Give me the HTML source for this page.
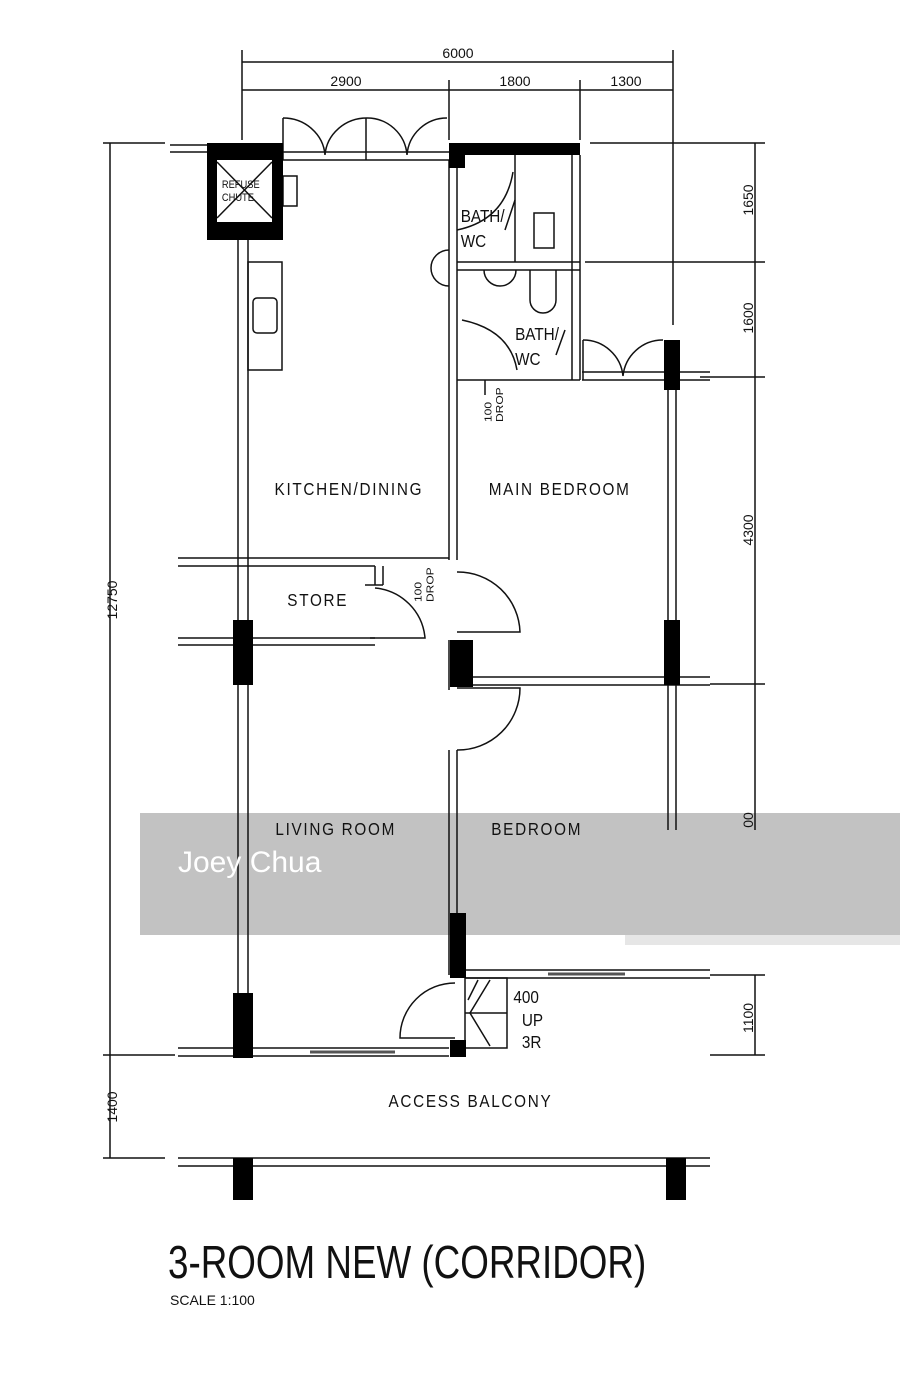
<!DOCTYPE html>
<html><head><meta charset="utf-8"><style>
html,body{margin:0;padding:0;background:#fff;width:900px;height:1386px;overflow:hidden}
svg{display:block}
text{font-family:"Liberation Sans",sans-serif;fill:#111}
.rl{letter-spacing:2px}
</style></head><body>
<svg width="900" height="1386" viewBox="0 0 900 1386" xmlns="http://www.w3.org/2000/svg">
<rect x="140" y="813" width="760" height="122" fill="#c2c2c2"/>
<rect x="625" y="935" width="275" height="10" fill="#e6e6e6"/>
<g stroke="#111" stroke-width="1.5" fill="none">
<line x1="242" y1="62" x2="673" y2="62"/>
<line x1="242" y1="90" x2="673" y2="90"/>
<line x1="242" y1="50" x2="242" y2="140"/>
<line x1="449" y1="80" x2="449" y2="140"/>
<line x1="580" y1="80" x2="580" y2="140"/>
<line x1="673" y1="50" x2="673" y2="325"/>
<line x1="110" y1="143" x2="110" y2="1158"/>
<line x1="103" y1="143" x2="165" y2="143"/>
<line x1="103" y1="1055" x2="175" y2="1055"/>
<line x1="103" y1="1158" x2="165" y2="1158"/>
<line x1="755" y1="143" x2="755" y2="830"/>
<line x1="755" y1="975" x2="755" y2="1055"/>
<line x1="590" y1="143" x2="765" y2="143"/>
<line x1="585" y1="262" x2="765" y2="262"/>
<line x1="700" y1="377" x2="765" y2="377"/>
<line x1="710" y1="684" x2="765" y2="684"/>
<line x1="710" y1="975" x2="765" y2="975"/>
<line x1="710" y1="1055" x2="765" y2="1055"/>
<line x1="238" y1="240" x2="238" y2="1055"/>
<line x1="248" y1="240" x2="248" y2="1055"/>
<rect x="248" y="262" width="34" height="108"/>
<rect x="253" y="298" width="24" height="35" rx="4"/>
<line x1="283" y1="152" x2="449" y2="152"/>
<line x1="283" y1="160" x2="449" y2="160"/>
<line x1="170" y1="145" x2="207" y2="145"/>
<line x1="170" y1="152" x2="207" y2="152"/>
<path d="M283 118 A42 40 0 0 1 325 155 M367 118 A42 40 0 0 0 325 155"/>
<path d="M367 118 A40 40 0 0 1 407 155 M447 118 A40 40 0 0 0 407 155"/>
<line x1="283" y1="118" x2="283" y2="160"/><line x1="366" y1="118" x2="366" y2="160"/>
<rect x="283" y="176" width="14" height="30"/>
<line x1="217" y1="162" x2="272" y2="218"/><line x1="272" y1="162" x2="217" y2="218"/>
<line x1="449" y1="160" x2="449" y2="560"/>
<line x1="457" y1="160" x2="457" y2="560"/>
<line x1="449" y1="640" x2="449" y2="690"/>
<line x1="449" y1="750" x2="449" y2="975"/>
<line x1="457" y1="750" x2="457" y2="975"/>
<line x1="457" y1="262" x2="580" y2="262"/>
<line x1="457" y1="270" x2="580" y2="270"/>
<line x1="515" y1="155" x2="515" y2="262"/>
<line x1="572" y1="155" x2="572" y2="380"/>
<line x1="580" y1="155" x2="580" y2="380"/>
<line x1="457" y1="380" x2="580" y2="380"/>
<rect x="534" y="213" width="20" height="35"/>
<path d="M457 230 Q505 220 513 172"/>
<line x1="505" y1="230" x2="515" y2="200"/>
<path d="M449 250 A14 14 0 0 0 449 286"/>
<path d="M484 270 A16 16 0 0 0 516 270"/>
<path d="M530 270 L530 300 A13 13 0 0 0 556 300 L556 270"/>
<path d="M462 320 Q510 330 517 370"/>
<line x1="565" y1="330" x2="556" y2="355"/>
<line x1="582" y1="372" x2="710" y2="372"/><line x1="582" y1="380" x2="710" y2="380"/>
<path d="M583 340 A40 40 0 0 1 623 376 M663 340 A40 40 0 0 0 623 376"/>
<line x1="583" y1="340" x2="583" y2="380"/>
<line x1="668" y1="380" x2="668" y2="830"/>
<line x1="676" y1="380" x2="676" y2="830"/>
<line x1="178" y1="558" x2="449" y2="558"/>
<line x1="178" y1="566" x2="375" y2="566"/>
<line x1="375" y1="566" x2="375" y2="585"/><line x1="383" y1="566" x2="383" y2="585"/>
<line x1="178" y1="638" x2="375" y2="638"/>
<line x1="178" y1="645" x2="375" y2="645"/>
<line x1="365" y1="585" x2="383" y2="585"/>
<path d="M370 638 L425 638 A55 55 0 0 0 375 588"/>
<path d="M457 572 A62 62 0 0 1 520 632 L457 632"/>
<path d="M457 750 A62 62 0 0 0 520 688 L457 688"/>
<line x1="472" y1="677" x2="710" y2="677"/>
<line x1="472" y1="685" x2="710" y2="685"/>
<line x1="465" y1="970" x2="710" y2="970"/>
<line x1="465" y1="978" x2="710" y2="978"/>
<line x1="178" y1="1048" x2="449" y2="1048"/>
<line x1="178" y1="1056" x2="449" y2="1056"/>
<line x1="310" y1="1052" x2="395" y2="1052" stroke-width="3" stroke="#555"/>
<line x1="548" y1="974" x2="625" y2="974" stroke-width="3" stroke="#555"/>
<path d="M455 1038 L400 1038 A55 55 0 0 1 455 983"/>
<rect x="465" y="978" width="42" height="70"/>
<line x1="465" y1="1013" x2="507" y2="1013"/>
<path d="M490 980 L470 1013 L490 1046 M478 980 L468 1000"/>
<line x1="178" y1="1158" x2="710" y2="1158"/>
<line x1="178" y1="1166" x2="710" y2="1166"/>
<line x1="485" y1="380" x2="485" y2="395"/>
</g>
<g fill="#000">
<path d="M207 143 H283 V240 H207 Z M217 160 V222 H272 V160 Z" fill-rule="evenodd"/>
<rect x="449" y="143" width="131" height="12"/>
<rect x="449" y="143" width="16" height="25"/>
<rect x="233" y="620" width="20" height="65"/>
<rect x="233" y="993" width="20" height="65"/>
<rect x="450" y="640" width="23" height="47"/>
<rect x="450" y="913" width="16" height="65"/>
<rect x="450" y="1040" width="16" height="17"/>
<rect x="664" y="340" width="16" height="50"/>
<rect x="664" y="620" width="16" height="65"/>
<rect x="233" y="1158" width="20" height="42"/>
<rect x="666" y="1158" width="20" height="42"/>
</g>
<g font-size="14">
<text x="458" y="58" text-anchor="middle">6000</text>
<text x="346" y="86" text-anchor="middle">2900</text>
<text x="515" y="86" text-anchor="middle">1800</text>
<text x="626" y="86" text-anchor="middle">1300</text>
<text transform="translate(753,200) rotate(-90)" text-anchor="middle">1650</text>
<text transform="translate(753,318) rotate(-90)" text-anchor="middle">1600</text>
<text transform="translate(753,530) rotate(-90)" text-anchor="middle">4300</text>
<text transform="translate(753,820) rotate(-90)" text-anchor="middle">00</text>
<text transform="translate(753,1018) rotate(-90)" text-anchor="middle">1100</text>
<text transform="translate(117,600) rotate(-90)" text-anchor="middle">12750</text>
<text transform="translate(117,1107) rotate(-90)" text-anchor="middle">1400</text>
</g>
<g font-size="18" transform="scale(0.85,1)">
<text class="rl" x="323" y="495">KITCHEN/DINING</text>
<text class="rl" x="575" y="495">MAIN BEDROOM</text>
<text class="rl" x="338" y="606">STORE</text>
<text class="rl" x="324" y="835">LIVING ROOM</text>
<text class="rl" x="578" y="835">BEDROOM</text>
<text class="rl" x="457" y="1107">ACCESS BALCONY</text>
<text x="542" y="222">BATH/</text><text x="542" y="247">WC</text>
<text x="606" y="340">BATH/</text><text x="606" y="365">WC</text>
<text x="604" y="1003">400</text><text x="614" y="1026">UP</text><text x="614" y="1048">3R</text>
</g>
<g font-size="12" transform="scale(0.85,1)">
<text transform="translate(578,422) rotate(-90)">100</text>
<text transform="translate(592,422) rotate(-90)">DROP</text>
<text transform="translate(496,602) rotate(-90)">100</text>
<text transform="translate(510,602) rotate(-90)">DROP</text>
<text x="261" y="188" font-size="11">REFUSE</text>
<text x="261" y="201" font-size="11">CHUTE</text>
</g>
<text x="178" y="872" font-size="30" style="fill:#fff">Joey Chua</text>
<text transform="translate(168,1278) scale(0.8,1)" font-size="46">3-ROOM NEW (CORRIDOR)</text>
<text x="170" y="1305" font-size="14">SCALE  1:100</text>
</svg>
</body></html>
